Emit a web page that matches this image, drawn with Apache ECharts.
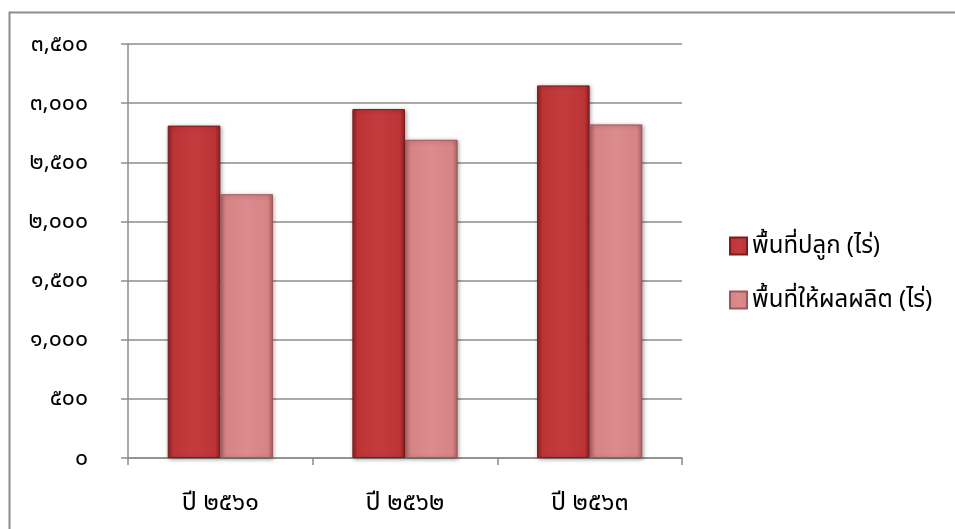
<!DOCTYPE html>
<html><head><meta charset="utf-8">
<script src="https://cdn.jsdelivr.net/npm/echarts@6/dist/echarts.min.js"></script>
<style>html,body{margin:0;padding:0;background:#fff}#c{width:955px;height:529px}</style>
</head><body><div id="c"></div>
<script>
const categories = ['ปี ๒๕๖๑', 'ปี ๒๕๖๒', 'ปี ๒๕๖๓'];
const seriesNames = ['พื้นที่ปลูก (ไร่)', 'พื้นที่ให้ผลผลิต (ไร่)'];
const planted = [2810, 2950, 3150];
const producing = [2230, 2690, 2820];
const yTicks = ['๐', '๕๐๐', '๑,๐๐๐', '๑,๕๐๐', '๒,๐๐๐', '๒,๕๐๐', '๓,๐๐๐', '๓,๕๐๐'];

const FONT = "'Noto Sans', 'Noto Sans Thai', 'DejaVu Sans', sans-serif";
function grad(edge, mid, light) {
  return new echarts.graphic.LinearGradient(0, 0, 1, 0, [
    {offset: 0, color: edge}, {offset: 0.1, color: mid}, {offset: 0.5, color: light},
    {offset: 0.9, color: mid}, {offset: 1, color: edge}]);
}
const chart = echarts.init(document.getElementById('c'), null, {renderer: 'canvas'});
chart.setOption({
  animation: false,
  backgroundColor: '#fff',
  graphic: [{type: 'rect', left: 7, top: 10, shape: {width: 960, height: 530},
    style: {fill: 'none', stroke: '#8c8c8c', lineWidth: 2}, silent: true}],
  grid: {left: 128, right: 273, top: 44, bottom: 71},
  legend: {
    orient: 'vertical', left: 724, top: 229, itemGap: 30,
    itemWidth: 17, itemHeight: 17, icon: 'rect',
    textStyle: {fontFamily: FONT, fontSize: 24, color: '#000'},
    data: seriesNames
  },
  xAxis: {
    type: 'category', data: categories,
    axisLine: {lineStyle: {color: '#8c8c8c', width: 1.5}},
    axisTick: {show: true, length: 7, lineStyle: {color: '#8c8c8c', width: 1.5}},
    axisLabel: {fontFamily: FONT, fontSize: 25, color: '#000', margin: 32}
  },
  yAxis: {
    type: 'value', min: 0, max: 3500, interval: 500,
    axisLine: {show: true, lineStyle: {color: '#8c8c8c', width: 1.5}},
    axisTick: {show: true, length: 7, lineStyle: {color: '#8c8c8c', width: 1.5}},
    splitLine: {lineStyle: {color: '#8c8c8c', width: 1.5}},
    axisLabel: {fontFamily: FONT, fontSize: 23, color: '#000', margin: 40,
      formatter: function (v) { return yTicks[Math.round(v / 500)]; }}
  },
  series: [
    {name: seriesNames[0], type: 'bar', data: planted, barGap: '0%', barCategoryGap: '43%',
      itemStyle: {color: grad('#8e2224', '#bd3436', '#c43b3d'), borderColor: '#7a1c1e', borderWidth: 1,
        shadowColor: 'rgba(0,0,0,0.35)', shadowBlur: 4, shadowOffsetX: 1, shadowOffsetY: 1}},
    {name: seriesNames[1], type: 'bar', data: producing,
      itemStyle: {color: grad('#b06264', '#d68486', '#dc8c8e'), borderColor: '#a05658', borderWidth: 1,
        shadowColor: 'rgba(0,0,0,0.35)', shadowBlur: 4, shadowOffsetX: 1, shadowOffsetY: 1}}
  ]
});
</script></body></html>
